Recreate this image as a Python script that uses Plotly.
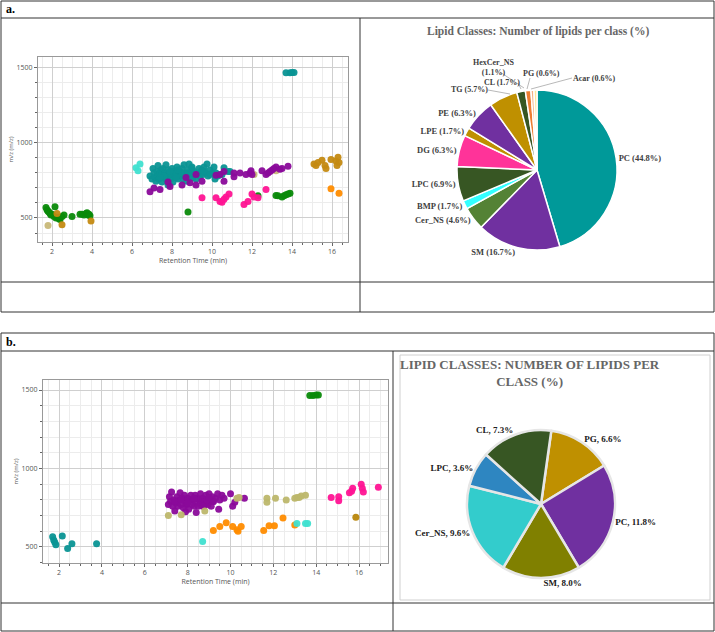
import plotly.graph_objects as go

# ---- panel a: scatter data (retention time, m/z) ----
a_green_x = [1.7, 1.75, 1.8, 1.85, 1.9, 1.95, 2.0, 2.1, 2.15, 2.2, 2.3, 2.35, 2.4, 2.5, 2.6, 3.0, 3.4, 3.5, 3.6, 3.7, 3.75, 3.8, 3.85, 3.9, 8.8, 12.3, 13.2, 13.3, 13.5, 13.6, 13.7, 13.8, 13.9]
a_green_y = [570, 555, 545, 540, 530, 520, 525, 510, 575, 500, 505, 495, 490, 510, 520, 510, 525, 525, 520, 530, 535, 520, 525, 515, 540, 648, 650, 648, 640, 648, 655, 660, 665]
a_gold_x = [2.25, 2.5, 3.95, 15.1, 15.2, 15.3, 15.5, 15.65, 15.7, 15.95, 16.2, 16.25, 16.3, 16.35]
a_gold_y = [530, 455, 480, 860, 850, 870, 885, 850, 830, 890, 880, 850, 905, 870]
a_khaki_x = [1.8, 12.1, 13.2]
a_khaki_y = [450, 790, 815]
a_teal_x = [6.9, 7.0, 7.05, 7.1, 7.15, 7.2, 7.25, 7.3, 7.3, 7.35, 7.4, 7.45, 7.5, 7.5, 7.55, 7.6, 7.65, 7.7, 7.7, 7.75,
            7.8, 7.8, 7.85, 7.9, 7.95, 8.0, 8.0, 8.05, 8.1, 8.15, 8.2, 8.25, 8.3, 8.35, 8.4, 8.45, 8.5, 8.55, 8.6, 8.65,
            8.7, 8.75, 8.8, 8.85, 8.9, 8.95, 9.0, 9.05, 9.1, 9.15, 9.2, 9.3, 9.35, 9.4, 9.5, 9.55, 9.6, 9.7, 9.75, 9.8,
            9.9, 10.0, 10.1, 10.15, 10.2, 10.3, 10.5, 10.6, 10.8, 10.9, 7.6, 7.9, 8.2, 8.6, 9.0, 9.6, 8.3, 7.4, 8.8, 9.9,
            13.7, 13.9, 14.0, 14.1]
a_teal_y = [780, 760, 830, 800, 770, 745, 810, 850, 780, 760, 800, 820, 740, 790, 830, 770, 800, 855, 760, 790,
            820, 720, 780, 800, 760, 830, 790, 740, 810, 770, 800, 840, 760, 790, 810, 780, 830, 760, 855, 800,
            790, 745, 820, 860, 780, 800, 840, 770, 810, 790, 760, 800, 830, 780, 820, 790, 840, 800, 860, 780,
            820, 800, 840, 760, 800, 780, 790, 835, 810, 810, 780, 810, 770, 790, 830, 810, 820, 770, 800, 790,
            1468, 1468, 1470, 1470]
a_cyan_x = [6.2, 6.3, 6.4]
a_cyan_y = [835, 815, 860]
a_purple_x = [6.9, 7.1, 7.4, 7.8, 7.9, 8.5, 8.7, 8.9, 9.2, 9.2, 9.5, 10.2, 10.4, 10.6, 10.6, 11.1, 11.1, 11.4, 11.7, 11.9,
              11.95, 12.0, 12.5, 12.7, 12.8, 12.9, 13.0, 13.1, 13.2, 13.4, 13.5, 13.8]
a_purple_y = [675, 700, 690, 740, 710, 720, 770, 735, 720, 790, 745, 785, 790, 745, 810, 775, 800, 800, 790, 800,
              815, 790, 815, 790, 800, 810, 820, 830, 840, 825, 830, 845]
a_pink_x = [9.5, 10.2, 10.4, 10.5, 10.6, 10.7, 10.85, 11.6, 11.8, 12.0, 12.1, 12.3, 12.7]
a_pink_y = [635, 635, 610, 605, 625, 640, 660, 590, 610, 660, 640, 635, 690]
a_orange_x = [15.95, 16.35]
a_orange_y = [695, 665]

# ---- panel b: scatter data ----
b_teal_x = [1.7, 1.75, 1.8, 1.85, 2.15, 2.4, 2.6, 3.75]
b_teal_y = [565, 545, 530, 515, 570, 490, 520, 520]
b_green_x = [13.7, 13.85, 14.0, 14.1]
b_green_y = [1466, 1466, 1468, 1468]
b_purple_x = [7.1, 7.15, 7.2, 7.25, 7.3, 7.35, 7.4, 7.45, 7.5, 7.55, 7.6, 7.65, 7.7, 7.75, 7.8, 7.85, 7.9, 7.95, 8.0, 8.05,
              8.1, 8.15, 8.2, 8.25, 8.3, 8.35, 8.4, 8.45, 8.5, 8.55, 8.6, 8.65, 8.7, 8.75, 8.8, 8.85, 8.9, 8.95, 9.0, 9.05,
              9.1, 9.15, 9.2, 9.3, 9.4, 9.45, 9.5, 9.6, 9.7, 10.0, 10.1, 10.2, 10.65, 7.4, 7.7, 8.0, 8.3, 8.6, 8.9, 9.2,
              7.9, 8.4, 8.7, 9.0]
b_purple_y = [770, 820, 790, 850, 760, 800, 730, 780, 820, 760, 800, 845, 770, 810, 750, 830, 790, 770, 810, 740,
              800, 830, 770, 800, 760, 830, 790, 810, 760, 800, 840, 780, 810, 760, 800, 830, 780, 770, 840, 800,
              760, 820, 790, 810, 840, 740, 800, 830, 810, 840, 760, 785, 810, 790, 800, 780, 810, 770, 800, 790,
              725, 720, 760, 815]
b_khaki_x = [7.1, 7.7, 8.8, 10.3, 10.4, 11.7, 11.7, 12.1, 12.6, 13.0, 13.1, 13.2, 13.3, 13.5]
b_khaki_y = [700, 705, 730, 810, 815, 810, 785, 810, 800, 810, 815, 815, 825, 830]
b_orange_x = [9.2, 9.5, 9.8, 10.1, 10.3, 10.35, 10.5, 11.55, 11.8, 12.05, 12.45, 13.0]
b_orange_y = [605, 630, 655, 630, 610, 600, 630, 605, 635, 635, 685, 640]
b_cyan_x = [8.7, 13.1, 13.5, 13.6]
b_cyan_y = [535, 650, 650, 650]
b_pink_x = [14.7, 15.05, 15.05, 15.55, 15.65, 15.7, 16.1, 16.15, 16.2, 16.9]
b_pink_y = [815, 795, 820, 845, 855, 875, 900, 875, 850, 880]
b_brown_x = [15.85]
b_brown_y = [690]

# ---- pies ----
a_classes = ["PC", "SM", "Cer_NS", "BMP", "LPC", "DG", "LPE", "PE", "TG", "CL", "HexCer_NS", "PG", "Acar"]
a_pct = [44.8, 16.7, 4.6, 1.7, 6.9, 6.3, 1.7, 6.3, 5.7, 1.7, 1.1, 0.6, 0.6]
a_colors = ["#009999", "#7030a0", "#548235", "#33ffff", "#375623", "#ff3399", "#bf9000",
            "#7030a0", "#bf9000", "#375623", "#ed7d31", "#f4b183", "#ffe699"]
b_classes = ["PG", "PC", "SM", "Cer_NS", "LPC", "CL"]
b_pct = [6.6, 11.8, 8.0, 9.6, 3.6, 7.3]
b_colors = ["#bf9000", "#7030a0", "#808000", "#33cccc", "#2e86c1", "#375623"]

W, H = 715, 632
def px(x): return x / W
def py(y): return 1 - y / H

fig = go.Figure()

def add_pts(x, y, c, xa, ya):
    fig.add_trace(go.Scatter(x=x, y=y, mode="markers", xaxis=xa, yaxis=ya,
                             marker=dict(color=c, size=7, opacity=0.95), showlegend=False))

add_pts(a_teal_x, a_teal_y, "#0a9494", "x", "y")
add_pts(a_green_x, a_green_y, "#0a8a0a", "x", "y")
add_pts(a_gold_x, a_gold_y, "#c48a12", "x", "y")
add_pts(a_khaki_x, a_khaki_y, "#c8b878", "x", "y")
add_pts(a_cyan_x, a_cyan_y, "#40e0d0", "x", "y")
add_pts(a_purple_x, a_purple_y, "#8a0a9a", "x", "y")
add_pts(a_pink_x, a_pink_y, "#ff1493", "x", "y")
add_pts(a_orange_x, a_orange_y, "#ff8c00", "x", "y")

add_pts(b_teal_x, b_teal_y, "#0a9494", "x2", "y2")
add_pts(b_green_x, b_green_y, "#0a8a0a", "x2", "y2")
add_pts(b_purple_x, b_purple_y, "#8a0a9a", "x2", "y2")
add_pts(b_khaki_x, b_khaki_y, "#bdb76b", "x2", "y2")
add_pts(b_orange_x, b_orange_y, "#ff8c00", "x2", "y2")
add_pts(b_cyan_x, b_cyan_y, "#40e0d0", "x2", "y2")
add_pts(b_pink_x, b_pink_y, "#ff1493", "x2", "y2")
add_pts(b_brown_x, b_brown_y, "#b8860b", "x2", "y2")

serif = "Liberation Serif"
# the tiny slices at the top get hand-placed labels (below), the rest are drawn by the pie
crowded = {"TG", "CL", "HexCer_NS", "PG", "Acar"}
a_text = ["" if c in crowded else f"<b>{c} ({p}%)</b>" for c, p in zip(a_classes, a_pct)]
fig.add_trace(go.Pie(labels=a_classes, values=a_pct, sort=False, direction="clockwise", rotation=0,
                     marker=dict(colors=a_colors, line=dict(color="white", width=1.5)),
                     text=a_text, textinfo="text",
                     textposition="outside", textfont=dict(family=serif, size=8.5, color="#404040"),
                     domain=dict(x=[px(457), px(617)], y=[py(250), py(90)]), showlegend=False))
fig.add_trace(go.Pie(labels=b_classes, values=b_pct, sort=False, direction="clockwise", rotation=8,
                     marker=dict(colors=b_colors, line=dict(color="#e6e6e6", width=2.5)),
                     text=[f"<b>{c}, {p}%</b>" for c, p in zip(b_classes, b_pct)], textinfo="text",
                     textposition="outside", textfont=dict(family=serif, size=9, color="#202020"),
                     domain=dict(x=[px(467), px(615)], y=[py(578), py(430)]), showlegend=False))

axcommon = dict(showline=True, mirror=True, linecolor="#999", gridcolor="#cfcfcf", zeroline=False,
                tickfont=dict(size=7, color="#555"), ticks="outside", ticklen=3, tickcolor="#666")
fig.update_layout(
    width=W, height=H, margin=dict(l=0, r=0, t=0, b=0), paper_bgcolor="white", plot_bgcolor="white",
    font=dict(family="Open Sans"),
    xaxis=dict(domain=[px(38), px(348)], range=[1.3, 16.8], dtick=2, anchor="y",
               minor=dict(dtick=0.5, showgrid=True, gridcolor="#ececec", ticks="outside", ticklen=2),
               title=dict(text="Retention Time (min)", font=dict(size=7, color="#555"), standoff=2), **axcommon),
    yaxis=dict(domain=[py(242), py(57)], range=[340, 1573], dtick=500, anchor="x",
               minor=dict(dtick=100, showgrid=True, gridcolor="#ececec", ticks="outside", ticklen=2),
               title=dict(text="m/z (m/z)", font=dict(size=6, color="#555"), standoff=2), **axcommon),
    xaxis2=dict(domain=[px(43), px(388)], range=[1.25, 17.35], dtick=2, anchor="y2",
                minor=dict(dtick=0.5, showgrid=True, gridcolor="#ececec", ticks="outside", ticklen=2),
                title=dict(text="Retention Time (min)", font=dict(size=7, color="#555"), standoff=2), **axcommon),
    yaxis2=dict(domain=[py(563), py(380)], range=[398, 1564], dtick=500, anchor="x2",
                minor=dict(dtick=100, showgrid=True, gridcolor="#ececec", ticks="outside", ticklen=2),
                title=dict(text="m/z (m/z)", font=dict(size=6, color="#555"), standoff=2), **axcommon),
)

def seg(x0, y0, x1, y1, c="#333", w=1):
    fig.add_shape(type="line", xref="paper", yref="paper", x0=px(x0), y0=py(y0), x1=px(x1), y1=py(y1),
                  line=dict(color=c, width=w))
# table frame lines
for (x0, y0, x1, y1) in [(1, 1, 714, 1), (1, 312, 714, 312), (1, 1, 1, 312), (714, 1, 714, 312),
                         (1, 18, 714, 18), (1, 282, 714, 282), (360, 18, 360, 312),
                         (1, 333, 714, 333), (1, 631, 714, 631), (1, 333, 1, 631), (714, 333, 714, 631),
                         (1, 351, 714, 351), (1, 603, 714, 603), (393, 351, 393, 631)]:
    seg(x0, y0, x1, y1)
fig.add_shape(type="rect", xref="paper", yref="paper", x0=px(400), y0=py(600), x1=px(710), y1=py(355),
              line=dict(color="#d0d0d0", width=1))

# leader lines for the hand-placed labels
for (x0, y0, x1, y1) in [(488, 90, 510, 94), (518, 83, 521, 89), (500, 72, 524, 88),
                         (530, 78, 527, 89), (572, 78, 531, 89)]:
    seg(x0, y0, x1, y1, c="#999", w=0.7)

def note(t, x, y, size=8, color="#404040", anchor="center"):
    fig.add_annotation(text=t, x=px(x), y=py(y), xref="paper", yref="paper", xanchor=anchor,
                       yanchor="middle", showarrow=False, font=dict(family=serif, size=size, color=color))

note("<b>TG (5.7%)</b>", 469, 90)
note("<b>CL (1.7%)</b>", 502, 82)
note("<b>HexCer_NS<br>(1.1%)</b>", 493, 67)
note("<b>PG (0.6%)</b>", 541, 74)
note("<b>Acar (0.6%)</b>", 594, 78)

note("<b>a.</b>", 4, 9, size=12, color="black", anchor="left")
note("<b>b.</b>", 4, 342, size=12, color="black", anchor="left")
note("<b>Lipid Classes: Number of lipids per class (%)</b>", 538, 31, size=11.5, color="#666")
note("<b>LIPID CLASSES: NUMBER OF LIPIDS PER<br>CLASS (%)</b>", 530, 373, size=13, color="#666")

fig.write_html("out.html", config={"displayModeBar": False},
               post_script="document.body.style.margin='0';window.dispatchEvent(new Event('resize'));")
